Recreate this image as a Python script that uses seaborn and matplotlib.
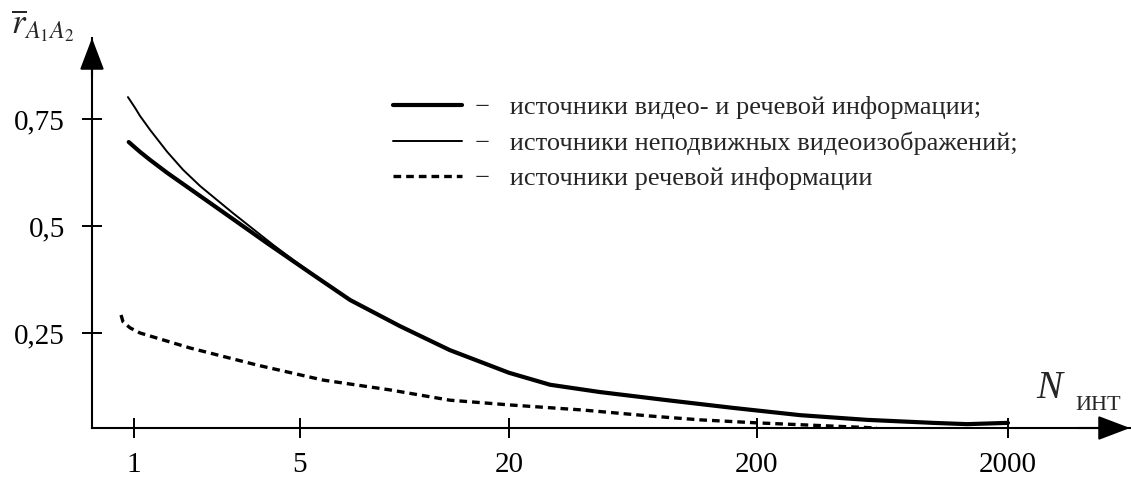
import numpy as np
import pandas as pd
import seaborn as sns
import matplotlib.pyplot as plt

# values (N on the x axis, r on the y axis)
x_ticks = [1, 5, 20, 200, 2000]
y_ticks = [0.25, 0.5, 0.75]
y_tick_labels = ["0,25", "0,5", "0,75"]

n_video_speech = [0.95, 1.06, 1.17, 1.38, 2.24, 3.63, 5.45, 6.97, 9.7, 13.5, 20, 29.3,
                  46.5, 86.7, 160, 297, 549, 1005, 1374, 2000]
r_video_speech = [0.696, 0.673, 0.654, 0.624, 0.542, 0.46, 0.386, 0.327, 0.266, 0.21,
                  0.157, 0.129, 0.112, 0.093, 0.075, 0.058, 0.047, 0.04, 0.037, 0.04]

n_still = [0.943, 1.01, 1.06, 1.17, 1.38, 1.61, 1.9, 2.61, 3.85, 5.45, 6.97, 9.7, 13.5,
           20, 29.3, 46.5, 86.7, 160, 297, 549, 1005, 1374, 2000]
r_still = [0.801, 0.776, 0.757, 0.724, 0.673, 0.631, 0.593, 0.53, 0.456, 0.386, 0.327,
           0.266, 0.21, 0.157, 0.129, 0.112, 0.093, 0.075, 0.058, 0.047, 0.04, 0.037, 0.04]

n_speech = [0.882, 0.899, 0.962, 1.06, 1.25, 1.72, 3.3, 5.82, 9.08, 13.5, 20, 39.7,
            74.1, 118, 200, 601]
r_speech = [0.292, 0.276, 0.262, 0.25, 0.238, 0.215, 0.175, 0.14, 0.117, 0.093, 0.082,
            0.07, 0.056, 0.047, 0.04, 0.028]

labels = ["источники видео- и речевой информации;",
          "источники неподвижных видеоизображений;",
          "источники речевой информации"]

sns.set_style("ticks")
plt.rcParams['font.family'] = ['Liberation Serif', 'DejaVu Serif']
plt.rcParams['mathtext.fontset'] = 'stix'

# the x axis of the original is hand spaced: ticks sit at these pixel columns
knot_lg = np.log10(x_ticks)
knot_px = np.array([134, 300, 509, 757, 1008], dtype=float)


def _piecewise(v, xs, ys):
    v = np.asarray(v, dtype=float)
    out = np.interp(v, xs, ys)
    lo = v < xs[0]
    hi = v > xs[-1]
    out = np.where(lo, ys[0] + (v - xs[0]) * (ys[1] - ys[0]) / (xs[1] - xs[0]), out)
    out = np.where(hi, ys[-1] + (v - xs[-1]) * (ys[-1] - ys[-2]) / (xs[-1] - xs[-2]), out)
    return out


def fwd(n):
    return _piecewise(np.log10(np.clip(np.asarray(n, dtype=float), 1e-9, None)), knot_lg, knot_px)


def inv(p):
    return 10 ** _piecewise(p, knot_px, knot_lg)


fig = plt.figure(figsize=(11.31, 4.79), dpi=100)
ax = fig.add_axes([92 / 1131, 51 / 479, 1038 / 1131, 390 / 479])

df_speech = pd.DataFrame({"n": n_speech, "r": r_speech})
df_still = pd.DataFrame({"n": n_still, "r": r_still})
df_vs = pd.DataFrame({"n": n_video_speech, "r": r_video_speech})

sns.lineplot(data=df_speech, x="n", y="r", ax=ax, color="black", lw=2.4,
             linestyle=(0, (2.3, 1.5)), sort=False, estimator=None, label=labels[2])
sns.lineplot(data=df_still, x="n", y="r", ax=ax, color="black", lw=1.4,
             sort=False, estimator=None, label=labels[1])
sns.lineplot(data=df_vs, x="n", y="r", ax=ax, color="black", lw=3.0,
             sort=False, estimator=None, label=labels[0])

ax.set_xscale('function', functions=(fwd, inv))
ax.set_xlim(float(inv(92)), float(inv(1130)))
ax.set_ylim(0.028, 0.939)

ax.set_xticks(x_ticks)
ax.set_xticklabels([str(t) for t in x_ticks])
ax.set_yticks(y_ticks)
ax.set_yticklabels(y_tick_labels)
ax.minorticks_off()
ax.tick_params(axis='both', direction='inout', length=15, width=1.4,
               labelsize=21, color='black', labelcolor='black')
ax.tick_params(axis='x', pad=10)
ax.tick_params(axis='y', pad=12)
ax.set_xlabel("")
ax.set_ylabel("")

for s in ['top', 'right']:
    ax.spines[s].set_visible(False)
for s in ['left', 'bottom']:
    ax.spines[s].set_linewidth(1.5)
    ax.spines[s].set_color('black')

# axis arrows
arrow = dict(arrowstyle='-|>,head_length=1.0,head_width=0.38', mutation_scale=20,
             color='black', lw=1.5, shrinkA=0, shrinkB=0)
ax.annotate('', xy=(1, 0), xytext=(0.95, 0), xycoords='axes fraction', arrowprops=arrow,
            annotation_clip=False)
ax.annotate('', xy=(0, 1), xytext=(0, 0.9), xycoords='axes fraction', arrowprops=arrow,
            annotation_clip=False)

# axis titles
fig.text(0.010, 0.985, r'$\overline{r}_{A_1 A_2}$', fontsize=25, va='top', ha='left')
fig.text(1036 / 1131, 1 - 398 / 479, 'N', fontsize=28, style='italic', va='baseline')
fig.text(1075 / 1131, 1 - 410 / 479, 'ИНТ', fontsize=16, va='baseline')

handles, labs = ax.get_legend_handles_labels()
order = [2, 1, 0]
leg = ax.legend([handles[i] for i in order], ["−   " + labs[i] for i in order],
                loc='upper left', bbox_to_anchor=(393 / 1131, 1 - 96 / 479),
                bbox_transform=fig.transFigure, frameon=False, fontsize=19,
                handlelength=2.6, handletextpad=0.5, labelspacing=0.45,
                borderpad=0, borderaxespad=0)

fig.savefig("out.png", dpi=100)
